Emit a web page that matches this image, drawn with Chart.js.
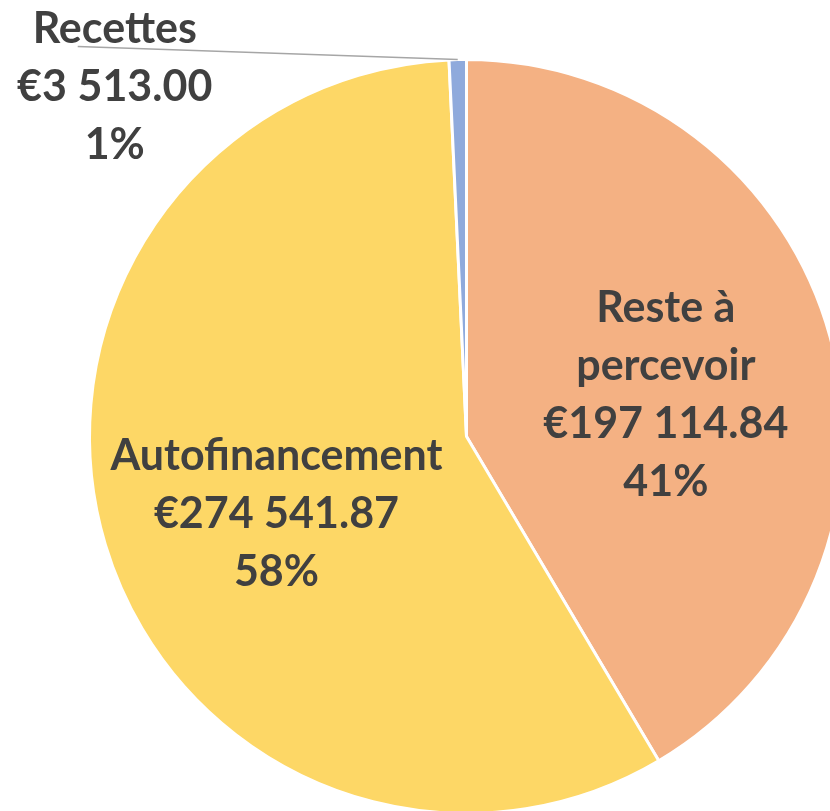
<!DOCTYPE html>
<html lang="fr">

<head>
    <meta charset="UTF-8">
    <title>Répartition du financement</title>
    <script src="https://cdn.jsdelivr.net/npm/chart.js"></script>
    <style>
        html, body {
            margin: 0;
            padding: 0;
            background: #ffffff;
            overflow: hidden;
            width: 830px;
            height: 811px;
        }

        #pieChart {
            position: absolute;
            left: 0;
            top: 0;
        }
    </style>
</head>

<body>
    <canvas id="pieChart" width="860" height="830"></canvas>

    <script>
        // Data (clockwise from 12 o'clock)
        const categories = ['Reste à percevoir', 'Autofinancement', 'Recettes'];
        const categoryLines = [['Reste à', 'percevoir'], ['Autofinancement'], ['Recettes']];
        const amounts = [197114.84, 274541.87, 3513.00];
        const sliceColors = ['#F4B183', '#FDD766', '#8FAADC'];

        const total = amounts.reduce((a, b) => a + b, 0);

        function formatEuro(v) {
            const parts = v.toFixed(2).split('.');
            const intPart = parts[0].replace(/\B(?=(\d{3})+(?!\d))/g, ' ');
            return '€' + intPart + '.' + parts[1];
        }

        // label placement: inside labels use the arc's mid angle, outside label gets a leader line
        const labelStyle = [
            { inside: true, factor: 0.54, dx: 3, dy: 12 },
            { inside: true, factor: 0.54, dx: 5, dy: 19 },
            { inside: false, lineDx: -380, lineDy: -13 }
        ];

        const lineHeight = 58;

        const sliceLabels = {
            id: 'sliceLabels',
            afterDatasetsDraw(chart) {
                const ctx = chart.ctx;
                const arcs = chart.getDatasetMeta(0).data;
                ctx.save();
                ctx.font = 'bold 43px Lato';
                ctx.fillStyle = '#404040';
                ctx.textAlign = 'center';
                ctx.textBaseline = 'middle';

                arcs.forEach((arc, i) => {
                    const p = arc.getProps(['x', 'y', 'startAngle', 'endAngle', 'outerRadius'], true);
                    const mid = (p.startAngle + p.endAngle) / 2;
                    const lines = categoryLines[i].concat([
                        formatEuro(amounts[i]),
                        Math.round(amounts[i] / total * 100) + '%'
                    ]);
                    const st = labelStyle[i];
                    let cx, cy;
                    if (st.inside) {
                        cx = p.x + Math.cos(mid) * p.outerRadius * st.factor + st.dx;
                        cy = p.y + Math.sin(mid) * p.outerRadius * st.factor + st.dy;
                    } else {
                        const ox = p.x + Math.cos(mid) * p.outerRadius;
                        const oy = p.y + Math.sin(mid) * p.outerRadius;
                        const ex = ox + st.lineDx;
                        const ey = oy + st.lineDy;
                        ctx.beginPath();
                        ctx.strokeStyle = '#A6A6A6';
                        ctx.lineWidth = 1.5;
                        ctx.moveTo(ox, oy);
                        ctx.lineTo(ex, ey);
                        ctx.stroke();
                        cx = ex + 37;
                        cy = ey - 17 + (lines.length - 1) * lineHeight / 2;
                    }
                    const y0 = cy - (lines.length - 1) * lineHeight / 2;
                    lines.forEach((t, k) => ctx.fillText(t, cx, y0 + k * lineHeight));
                });
                ctx.restore();
            }
        };

        const ctxPie = document.getElementById('pieChart').getContext('2d');
        new Chart(ctxPie, {
            type: 'pie',
            data: {
                labels: categories,
                datasets: [{
                    data: amounts,
                    backgroundColor: sliceColors,
                    borderColor: '#ffffff',
                    borderWidth: 3
                }]
            },
            options: {
                responsive: false,
                animation: false,
                layout: {
                    padding: { left: 88, top: 58, right: 15, bottom: 15 }
                },
                plugins: {
                    legend: { display: false },
                    tooltip: { enabled: false }
                }
            },
            plugins: [sliceLabels]
        });
    </script>
</body>

</html>
